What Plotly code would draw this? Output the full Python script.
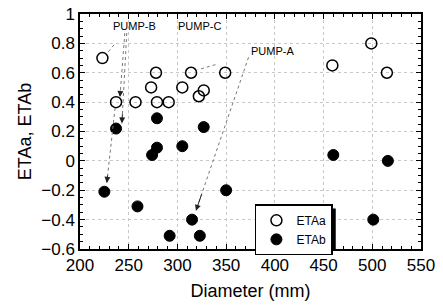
import plotly.graph_objects as go

# ETAa (open circles)
eta_a_x = [223, 237, 257, 273, 278, 279, 291, 305, 314, 322, 327, 349, 459, 499, 515]
eta_a_y = [0.70, 0.40, 0.40, 0.50, 0.60, 0.40, 0.40, 0.50, 0.60, 0.44, 0.48, 0.60, 0.65, 0.80, 0.60]
# ETAb (filled circles)
eta_b_x = [225, 237, 259, 274, 279, 279, 292, 305, 315, 323, 327, 350, 460, 501, 516]
eta_b_y = [-0.21, 0.22, -0.31, 0.04, 0.09, 0.29, -0.51, 0.10, -0.40, -0.51, 0.23, -0.20, 0.04, -0.40, 0.00]

# Pump labels
pump_names = ["PUMP-B", "PUMP-C", "PUMP-A"]
pump_x = [256, 323, 398]
pump_y = [0.915, 0.915, 0.745]

# Dotted leader lines (tail -> tip), data coords
lead_x0 = [235, 246, 248, 236, 339, 373]
lead_y0 = [0.79, 0.87, 0.87, 0.36, 0.655, 0.705]
lead_x1 = [227.5, 241, 243, 227.5, 321, 319]
lead_y1 = [0.73, 0.435, 0.255, -0.15, 0.62, -0.34]

FONT = "Liberation Sans, Arial"

fig = go.Figure()
fig.add_trace(go.Scatter(x=eta_a_x, y=eta_a_y, mode="markers", name="ETAa",
                         marker=dict(symbol="circle-open", size=11, color="black",
                                     line=dict(width=1.5, color="black"))))
fig.add_trace(go.Scatter(x=eta_b_x, y=eta_b_y, mode="markers", name="ETAb",
                         marker=dict(symbol="circle", size=11, color="black",
                                     line=dict(width=1, color="black"))))

for x0, y0, x1, y1 in zip(lead_x0, lead_y0, lead_x1, lead_y1):
    fig.add_shape(type="line", x0=x0, y0=y0, x1=x1, y1=y1, xref="x", yref="y",
                  line=dict(color="#777", width=1, dash="dot"))
    fig.add_annotation(x=x1, y=y1, ax=x1 + (x0 - x1) * 0.12, ay=y1 + (y0 - y1) * 0.12,
                       xref="x", yref="y", axref="x", ayref="y", text="",
                       showarrow=True, arrowhead=2, arrowsize=1.2, arrowwidth=1,
                       arrowcolor="#222")

for name, px, py in zip(pump_names, pump_x, pump_y):
    fig.add_annotation(x=px, y=py, xref="x", yref="y", text=name, showarrow=False,
                       font=dict(family=FONT, size=11, color="black"))

# legend shadow
fig.add_shape(type="rect", xref="paper", yref="paper", x0=0.522, x1=0.75, y0=-0.004, y1=0.172,
              fillcolor="black", line=dict(width=0), layer="above")

axis_common = dict(showline=True, linecolor="black", linewidth=1.5, mirror="allticks",
                   ticks="inside", ticklen=5, tickwidth=1.2, tickcolor="black",
                   showgrid=True, gridcolor="#c8c8c8", griddash="dot", gridwidth=1,
                   zeroline=False, automargin=False,
                   tickfont=dict(family=FONT, size=17, color="black"))

fig.update_xaxes(range=[200, 550], dtick=50, tick0=200,
                 minor=dict(dtick=10, ticks="inside", ticklen=3, tickcolor="black", showgrid=False),
                 title=dict(text="Diameter (mm)", font=dict(family=FONT, size=18, color="black"),
                            standoff=10),
                 **axis_common)
fig.update_yaxes(range=[-0.6, 1.0], dtick=0.2, tick0=-0.6, tickformat="~g",
                 minor=dict(dtick=0.05, ticks="inside", ticklen=3, tickcolor="black", showgrid=False),
                 title=dict(text="ETAa, ETAb", font=dict(family=FONT, size=18, color="black"),
                            standoff=5),
                 **axis_common)

fig.update_layout(
    width=443, height=306,
    margin=dict(l=80, r=22, t=14, b=57, autoexpand=False),
    paper_bgcolor="white", plot_bgcolor="white",
    showlegend=True,
    legend=dict(x=0.513, y=0.19, xanchor="left", yanchor="top",
                bgcolor="white", bordercolor="black", borderwidth=1.5,
                font=dict(family=FONT, size=12, color="black"),
                itemwidth=30, tracegroupgap=0),
)

fig.write_html("out.html", config={"displayModeBar": False},
               post_script="document.body.style.margin='0';document.body.style.overflow='hidden';")
